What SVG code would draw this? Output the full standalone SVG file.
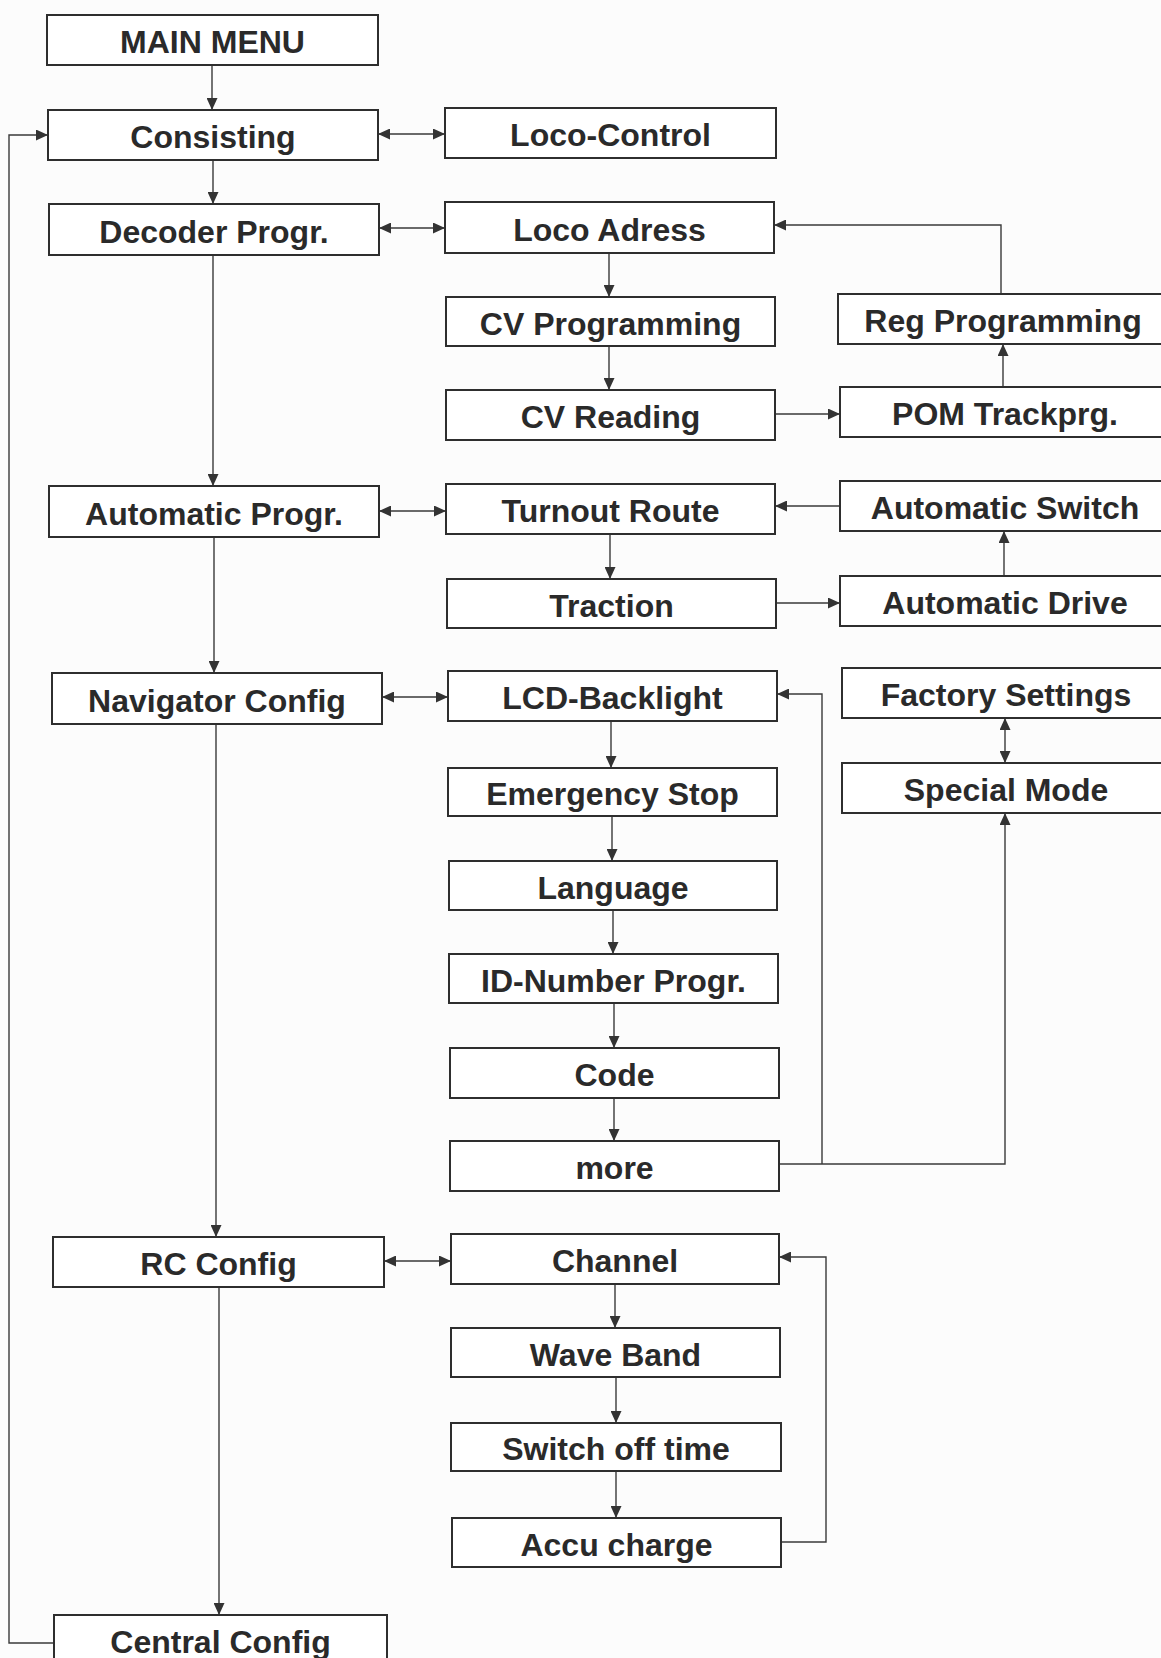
<svg xmlns="http://www.w3.org/2000/svg" width="1161" height="1658" viewBox="0 0 1161 1658">
<style>
.node rect{fill:#fff;stroke:#2e2e2e;stroke-width:2}
.node text{font-family:"Liberation Sans",Arial,sans-serif;font-size:32px;font-weight:bold;fill:#2a2a2a;text-anchor:middle}
.conn path{fill:none;stroke:#3a3a3a;stroke-width:1.4}
.a{marker-end:url(#ah)}
.d{marker-start:url(#ah);marker-end:url(#ah)}
</style>
<defs>
<marker id="ah" markerUnits="userSpaceOnUse" markerWidth="12" markerHeight="11" refX="12" refY="5.5" orient="auto-start-reverse">
<path d="M0,0 L12,5.5 L0,11 z" fill="#333"/>
</marker>
</defs>
<rect width="1161" height="1658" fill="#fcfcfc"/>
<g id="connectors" class="conn">
<path class="a" d="M212,65 V110"/>
<path class="a" d="M213,160 V204"/>
<path class="d" d="M378,134 H445"/>
<path class="d" d="M379,228 H445"/>
<path class="a" d="M213,255 V486"/>
<path class="a" d="M609,253 V297"/>
<path class="a" d="M609,346 V390"/>
<path class="a" d="M775,414 H840"/>
<path class="a" d="M1003,387 V344"/>
<path class="a" d="M1001,294 V225 H774"/>
<path class="d" d="M379,511 H446"/>
<path class="a" d="M610,534 V579"/>
<path class="a" d="M775,603 H840"/>
<path class="a" d="M1004,576 V531"/>
<path class="a" d="M840,506 H775"/>
<path class="a" d="M214,537 V673"/>
<path class="d" d="M382,697 H448"/>
<path class="a" d="M611,721 V768"/>
<path class="a" d="M612,816 V861"/>
<path class="a" d="M613,910 V954"/>
<path class="a" d="M614,1003 V1048"/>
<path class="a" d="M614,1098 V1141"/>
<path class="a" d="M779,1164 H1005 V813"/>
<path class="a" d="M822,1164 V694 H777"/>
<path class="d" d="M1005,718 V763"/>
<path class="a" d="M216,724 V1237"/>
<path class="d" d="M384,1261 H451"/>
<path class="a" d="M615,1284 V1328"/>
<path class="a" d="M616,1377 V1423"/>
<path class="a" d="M616,1471 V1518"/>
<path class="a" d="M781,1542 H826 V1257 H779"/>
<path class="a" d="M219,1287 V1615"/>
<path class="a" d="M54,1643 H9 V135 H48"/>
</g>
<g id="n-main" class="node"><rect x="47" y="15" width="331" height="50"/><text x="212.5" y="53">MAIN MENU</text></g>
<g id="n-consisting" class="node"><rect x="48" y="110" width="330" height="50"/><text x="213" y="148">Consisting</text></g>
<g id="n-decoder" class="node"><rect x="49" y="204" width="330" height="51"/><text x="214" y="243">Decoder Progr.</text></g>
<g id="n-autoprogr" class="node"><rect x="49" y="486" width="330" height="51"/><text x="214" y="525">Automatic Progr.</text></g>
<g id="n-navigator" class="node"><rect x="52" y="673" width="330" height="51"/><text x="217" y="712">Navigator Config</text></g>
<g id="n-rc" class="node"><rect x="53" y="1237" width="331" height="50"/><text x="218.5" y="1275">RC Config</text></g>
<g id="n-central" class="node"><rect x="54" y="1615" width="333" height="52"/><text x="220.5" y="1653">Central Config</text></g>
<g id="n-lococontrol" class="node"><rect x="445" y="108" width="331" height="50"/><text x="610.5" y="146">Loco-Control</text></g>
<g id="n-locoadress" class="node"><rect x="445" y="202" width="329" height="51"/><text x="609.5" y="241">Loco Adress</text></g>
<g id="n-cvprog" class="node"><rect x="446" y="297" width="329" height="49"/><text x="610.5" y="335">CV Programming</text></g>
<g id="n-cvread" class="node"><rect x="446" y="390" width="329" height="50"/><text x="610.5" y="428">CV Reading</text></g>
<g id="n-turnout" class="node"><rect x="446" y="484" width="329" height="50"/><text x="610.5" y="522">Turnout Route</text></g>
<g id="n-traction" class="node"><rect x="447" y="579" width="329" height="49"/><text x="611.5" y="617">Traction</text></g>
<g id="n-lcd" class="node"><rect x="448" y="671" width="329" height="50"/><text x="612.5" y="709">LCD-Backlight</text></g>
<g id="n-emergency" class="node"><rect x="448" y="768" width="329" height="48"/><text x="612.5" y="805">Emergency Stop</text></g>
<g id="n-language" class="node"><rect x="449" y="861" width="328" height="49"/><text x="613" y="899">Language</text></g>
<g id="n-idnumber" class="node"><rect x="449" y="954" width="329" height="49"/><text x="613.5" y="992">ID-Number Progr.</text></g>
<g id="n-code" class="node"><rect x="450" y="1048" width="329" height="50"/><text x="614.5" y="1086">Code</text></g>
<g id="n-more" class="node"><rect x="450" y="1141" width="329" height="50"/><text x="614.5" y="1179">more</text></g>
<g id="n-channel" class="node"><rect x="451" y="1234" width="328" height="50"/><text x="615" y="1272">Channel</text></g>
<g id="n-waveband" class="node"><rect x="451" y="1328" width="329" height="49"/><text x="615.5" y="1366">Wave Band</text></g>
<g id="n-switchoff" class="node"><rect x="451" y="1423" width="330" height="48"/><text x="616" y="1460">Switch off time</text></g>
<g id="n-accu" class="node"><rect x="452" y="1518" width="329" height="49"/><text x="616.5" y="1556">Accu charge</text></g>
<g id="n-reg" class="node"><rect x="838" y="294" width="330" height="50"/><text x="1003" y="332">Reg Programming</text></g>
<g id="n-pom" class="node"><rect x="840" y="387" width="330" height="50"/><text x="1005" y="425">POM Trackprg.</text></g>
<g id="n-autoswitch" class="node"><rect x="840" y="481" width="330" height="50"/><text x="1005" y="519">Automatic Switch</text></g>
<g id="n-autodrive" class="node"><rect x="840" y="576" width="330" height="50"/><text x="1005" y="614">Automatic Drive</text></g>
<g id="n-factory" class="node"><rect x="842" y="668" width="330" height="50"/><text x="1006" y="706">Factory Settings</text></g>
<g id="n-special" class="node"><rect x="842" y="763" width="330" height="50"/><text x="1006" y="801">Special Mode</text></g>
</svg>
